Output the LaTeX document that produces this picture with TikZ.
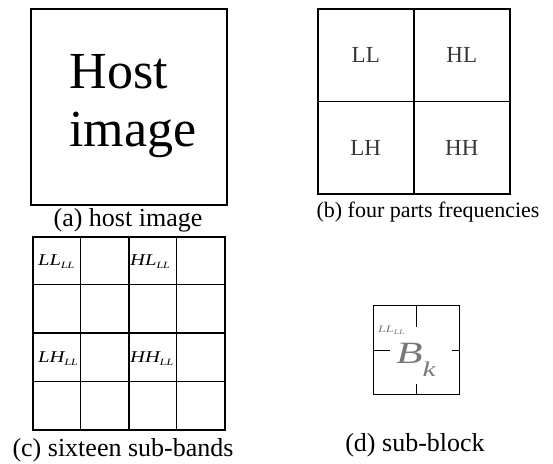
\documentclass[tikz,border=0pt]{standalone}
\usepackage{fontspec}
\setmainfont{Liberation Serif}
\usetikzlibrary{matrix}
\usetikzlibrary{positioning}
\definecolor{lbl}{RGB}{55,55,55}
\definecolor{blk}{RGB}{120,120,120}
\newcommand{\bandlbl}[2]{\scalebox{1.25}[1]{#1\raisebox{-3pt}{\fontsize{9.5}{11}\selectfont #2}}}

\begin{document}
\begin{tikzpicture} [
    x=1pt, y=-1pt,
    subcap/.style={font=\fontsize{26}{28}\selectfont, inner sep=0pt},
    band/.style={
        font=\fontsize{16.5}{18}\selectfont\itshape,
        anchor=base west, inner sep=0pt
    },
    thick line/.style={line width=2pt}
]
\useasboundingbox (0,0) rectangle (553,463);

% (a) host image
\node [draw, thick line, minimum width=196pt, minimum height=196pt,
    anchor=north west] (host) at (30,8) {};
\node [font=\fontsize{52}{58}\selectfont, align=left, inner sep=0pt]
    (hosttxt) at (133,106) {Host\\image};
\node [subcap] (capa) at (128,220) {(a) host image};

% (b) four parts
\matrix (freq) [
    matrix of nodes,
    anchor=north west,
    inner sep=0pt, outer sep=0pt,
    row sep=-1.5pt,
    column sep=-1.5pt,
    nodes={
        draw, line width=1.5pt,
        minimum width=96pt, minimum height=92.5pt,
        font=\fontsize{23}{25}\selectfont, text=lbl
    }
] at (317,8) {
    LL & HL \\
    LH & HH \\
};
\node [font=\fontsize{22}{24}\selectfont, inner sep=0pt]
    (capb) at (428,212) {(b) four parts frequencies};

% (c) sixteen sub-bands
\matrix (sb) [
    matrix of nodes,
    anchor=north west,
    inner sep=0pt, outer sep=0pt,
    row sep=-1pt,
    column sep=-1pt,
    nodes={
        draw, line width=1pt,
        minimum width=48pt, minimum height=48.25pt
    }
] at (32,236) {
    {} & {} & {} & {} \\
    {} & {} & {} & {} \\
    {} & {} & {} & {} \\
    {} & {} & {} & {} \\
};
\draw [thick line] (sb-1-1.north west) rectangle (sb-4-4.south east);
\draw [thick line] (sb-1-3.north west) -- (sb-4-3.south west);
\draw [thick line] (sb-3-1.north west) -- (sb-3-4.north east);

\node [band] (llll) at (38,265) {\bandlbl{LL}{LL}};
\node [band] (hlll) at (130,265) {\bandlbl{HL}{LL}};
\node [band] (lhll) at (38,362) {\bandlbl{LH}{LL}};
\node [band] (hhll) at (130,362) {\bandlbl{HH}{LL}};
\node [subcap] (capc) at (123,450) {(c) sixteen sub-bands};

% (d) sub-block
\node [draw, line width=1pt, minimum width=86pt, minimum height=89pt,
    anchor=north west] (blk) at (373,305) {};
\draw [line width=1pt] (blk.north) -- ++(0,22);
\draw [line width=1pt] (blk.south) -- ++(0,-11);
\draw [line width=1pt] (blk.west) -- ++(17,0);
\draw [line width=1pt] (blk.east) -- ++(-8,0);
\node [band, font=\fontsize{10}{12}\selectfont\itshape, text=blk]
    (blkll) at (378,332)
    {\scalebox{1.4}[1]{LL\raisebox{-2pt}{\fontsize{7}{8}\selectfont LL}}};
\node [font=\fontsize{31}{33}\selectfont\itshape, text=blk, inner sep=0pt,
    anchor=base west] (bk) at (396,363)
    {\scalebox{1.4}[1]{B\raisebox{-13pt}{\fontsize{21}{23}\selectfont k}}};
\node [subcap] (capd) at (415,445) {(d) sub-block};

\end{tikzpicture}
\end{document}
